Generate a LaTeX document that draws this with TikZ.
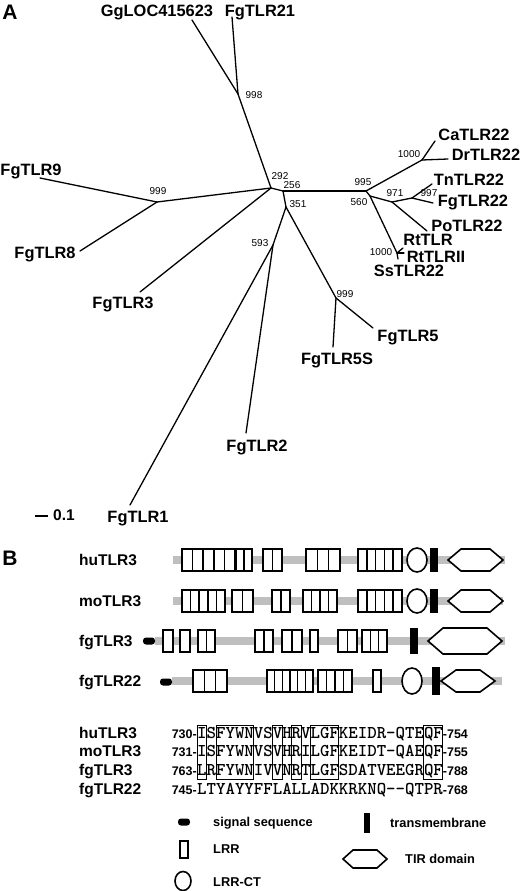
\documentclass[tikz,border=0pt]{standalone}
\usepackage{fontspec}
\setmainfont{Liberation Sans}

\tikzset{
  branch/.style={line width=1.3pt, line cap=round},
  taxon/.style={font=\fontsize{16.4}{16}\selectfont\bfseries, inner sep=0pt,
    text height=11.7pt, text depth=0pt},
  boot/.style={font=\fontsize{10}{10}\selectfont, inner sep=0pt,
    text height=7.2pt, text depth=0pt},
  panel/.style={font=\fontsize{21}{21}\selectfont\bfseries, inner sep=0pt},
  rowlab/.style={font=\fontsize{15.5}{15}\selectfont\bfseries, inner sep=0pt,
    anchor=west, text height=11.1pt, text depth=0pt},
  backbone/.style={line width=8pt, gray!50},
  lrrbox/.style={draw, line width=1.6pt, fill=white},
  tirbox/.style={draw, line width=1.6pt, fill=white, line join=miter},
  seq/.style={font=\fontsize{18}{18}\selectfont\ttfamily\bfseries,
    inner sep=0pt, anchor=base west},
  seqnum/.style={font=\fontsize{12.5}{12}\selectfont\bfseries, inner sep=0pt},
  alnbox/.style={draw, line width=0.8pt},
  legtext/.style={font=\fontsize{12.8}{12}\selectfont\bfseries, inner sep=0pt,
    anchor=west, text height=9.2pt, text depth=0pt}
}

\newcommand\lrrgroup[4]{% y, left, right, number of repeats
  \pgfmathsetmacro\lrrw{(#3-#2)/#4}%
  \foreach \k in {1,...,#4}{%
    \draw[lrrbox] ({#2+(\k-1)*\lrrw},#1-11) rectangle ({#2+\k*\lrrw},#1+11);}}
\newcommand\tirhex[5]{% y, left, right, half height, slant
  \draw[tirbox] (#2,#1) -- (#2+#5,#1-#4) -- (#3-#5,#1-#4) -- (#3,#1)
    -- (#3-#5,#1+#4) -- (#2+#5,#1+#4) -- cycle;}
\newcommand\colw{9.45}

\begin{document}
\begin{tikzpicture}[x=1pt, y=-1pt]
  \useasboundingbox (0,0) rectangle (520,891);

  % A: tree
  \node[panel] (pA) at (10,12) {A};

  \coordinate (nA) at (271,188);
  \coordinate (nB) at (283,191);
  \coordinate (n998) at (238,94);
  \coordinate (n999a) at (157,202);
  \coordinate (n351) at (286,207);
  \coordinate (n593) at (273,245);
  \coordinate (n999b) at (336,298);
  \coordinate (n995) at (366,191);
  \coordinate (n560) at (370,196);
  \coordinate (n1000a) at (422,160);
  \coordinate (n971) at (392,202);
  \coordinate (n997) at (412,198);
  \coordinate (n1000b) at (397,253);

  \coordinate (tgg) at (192,20);
  \coordinate (t21) at (232,17);
  \coordinate (t9) at (40,178);
  \coordinate (t8) at (80,251);
  \coordinate (t3) at (140,292);
  \coordinate (t2) at (246,433);
  \coordinate (t1) at (130,505);
  \coordinate (t5s) at (333,347);
  \coordinate (t5) at (373,328);
  \coordinate (tss) at (398,259);
  \coordinate (trt2) at (404,253);
  \coordinate (trt) at (403,248);
  \coordinate (tpo) at (427,231);
  \coordinate (tfg22) at (433,203);
  \coordinate (ttn) at (432,184);
  \coordinate (tdr) at (448,159);
  \coordinate (tca) at (435,141);

  \foreach \u/\v in {n998/tgg, n998/t21, n998/nA, nA/n999a, n999a/t9, n999a/t8,
      nA/t3, nA/nB, nB/n995, nB/n351, n351/n593, n593/t2, n593/t1,
      n351/n999b, n999b/t5, n999b/t5s, n995/n1000a, n1000a/tca, n1000a/tdr,
      n995/n560, n560/n971, n971/n997, n997/ttn, n997/tfg22, n971/tpo,
      n560/n1000b, n1000b/trt, n1000b/trt2, n1000b/tss}
    \draw[branch] (\u) -- (\v);

  \node[taxon] (lgg) at (157,10.5) {GgLOC415623};
  \node[taxon] (l21) at (260,10.5) {FgTLR21};
  \node[taxon] (l9) at (31,170) {FgTLR9};
  \node[taxon] (l8) at (45,253) {FgTLR8};
  \node[taxon] (l3) at (123,303) {FgTLR3};
  \node[taxon] (l2) at (257,446) {FgTLR2};
  \node[taxon] (l1) at (138,517) {FgTLR1};
  \node[taxon] (l5s) at (337,359) {FgTLR5S};
  \node[taxon] (l5) at (408,336) {FgTLR5};
  \node[taxon] (lss) at (409,271) {SsTLR22};
  \node[taxon] (lrt2) at (436,257) {RtTLRII};
  \node[taxon] (lrt) at (428,240) {RtTLR};
  \node[taxon] (lpo) at (467,226) {PoTLR22};
  \node[taxon] (lfg22) at (473,201) {FgTLR22};
  \node[taxon] (ltn) at (469,180) {TnTLR22};
  \node[taxon] (ldr) at (486,155) {DrTLR22};
  \node[taxon] (lca) at (474,135) {CaTLR22};

  \node[boot] (b998) at (254,95) {998};
  \node[boot] (b999a) at (158,191) {999};
  \node[boot] (b292) at (280,176) {292};
  \node[boot] (b256) at (292,185) {256};
  \node[boot] (b351) at (298,204) {351};
  \node[boot] (b593) at (260,243) {593};
  \node[boot] (b995) at (363,182) {995};
  \node[boot] (b560) at (359,202) {560};
  \node[boot] (b1000a) at (409,154) {1000};
  \node[boot] (b971) at (395,193) {971};
  \node[boot] (b997) at (429,193) {997};
  \node[boot] (b1000b) at (381,252) {1000};
  \node[boot] (b999b) at (345,294) {999};

  \coordinate (sbl) at (35,516);
  \coordinate (sbr) at (48,516);
  \draw[line width=2pt] (sbl) -- (sbr);
  \node[taxon, font=\fontsize{15.5}{15}\selectfont\bfseries] (sbt) at (64,515) {0.1};

  % B: domains
  \node[panel] (pB) at (10,558) {B};

  \node[rowlab] (rhu) at (79,560) {huTLR3};
  \node[rowlab] (rmo) at (79,601) {moTLR3};
  \node[rowlab] (rfg3) at (79,641) {fgTLR3};
  \node[rowlab] (rfg22) at (79,681) {fgTLR22};

  \draw[backbone] (173,560) -- (505,560);
  \draw[backbone] (173,601) -- (503,601);
  \draw[backbone] (155,641) -- (505,641);
  \draw[backbone] (172,681) -- (502,681);

  \foreach \a/\b/\n in {182/235/5, 236/252/2, 263/282/2, 306/340/3, 358/402/5}
    {\lrrgroup{560}{\a}{\b}{\n}}
  \draw[lrrbox] (417,560) ellipse [x radius=10pt, y radius=12pt];
  \fill (430,548) rectangle (438,572);
  \tirhex{560}{448}{503}{11}{13}

  \foreach \a/\b/\n in {182/225/5, 232/253/2, 272/290/2, 303/337/4, 358/402/5}
    {\lrrgroup{601}{\a}{\b}{\n}}
  \draw[lrrbox] (417,601) ellipse [x radius=10pt, y radius=12pt];
  \fill (430,589) rectangle (438,613);
  \tirhex{601}{448}{503}{11}{13}

  \fill[rounded corners=3pt] (143,637.5) rectangle (155,644.5);
  \foreach \a/\b/\n in {163/173/1, 180/190/1, 198/215/2, 255/273/2, 282/302/2,
      310/318/1, 338/357/2, 362/387/3}
    {\lrrgroup{641}{\a}{\b}{\n}}
  \fill (410,628) rectangle (418,654);
  \tirhex{641}{428}{502}{13}{15}

  \fill[rounded corners=3pt] (160,678.5) rectangle (172,685.5);
  \foreach \a/\b/\n in {193/227/3, 267/313/6, 318/352/4, 373/381/1}
    {\lrrgroup{681}{\a}{\b}{\n}}
  \draw[lrrbox] (412,681) ellipse [x radius=10pt, y radius=13pt];
  \fill (432,667) rectangle (440,695);
  \tirhex{681}{441}{495}{11}{15}

  % alignment
  \node[rowlab] (ahu) at (79,733) {huTLR3};
  \node[rowlab] (amo) at (79,751) {moTLR3};
  \node[rowlab] (afg3) at (79,770) {fgTLR3};
  \node[rowlab] (afg22) at (79,789) {fgTLR22};

  \node[seq] (shu) at (197,738.5) {ISFYWNVSVHRVLGFKEIDR-QTEQF};
  \node[seq] (smo) at (197,756.5) {ISFYWNVSVHRILGFKEIDT-QAEQF};
  \node[seq] (sfg3) at (197,775.5) {LRFYWNIVVNRTLGFSDATVEEGRQF};
  \node[seq] (sfg22) at (197,794.5) {LTYAYYFFLALLADKKRKNQ-{}-QTPR};

  \foreach \r/\s/\e/\y in {hu/730/754/738, mo/731/755/756, fg3/763/788/775,
      fg22/745/768/794} {
    \node[seqnum, anchor=base east] (n\r) at (197,\y) {\s-};
    \node[seqnum, anchor=base west] (c\r) at (442.7,\y) {-\e};
  }

  \foreach \c/\n in {0/1, 2/4, 8/1, 10/1, 12/3, 24/2}
    \draw[alnbox] ({197+\c*\colw},725) rectangle ({197+(\c+\n)*\colw},779);

  % legend
  \fill[rounded corners=3pt] (178,818.5) rectangle (190,825.5);
  \node[legtext] (lsig) at (213,822) {signal sequence};
  \draw[lrrbox] (180,841) rectangle (188,858);
  \node[legtext] (llrr) at (213,849) {LRR};
  \draw[lrrbox] (183,881) ellipse [x radius=8pt, y radius=9.5pt];
  \node[legtext] (lct) at (213,882) {LRR-CT};
  \fill (364,813) rectangle (369.5,833);
  \node[legtext] (ltm) at (390,823) {transmembrane};
  \tirhex{859}{343}{387}{9}{10}
  \node[legtext] (ltir) at (405,859) {TIR domain};
\end{tikzpicture}
\end{document}
